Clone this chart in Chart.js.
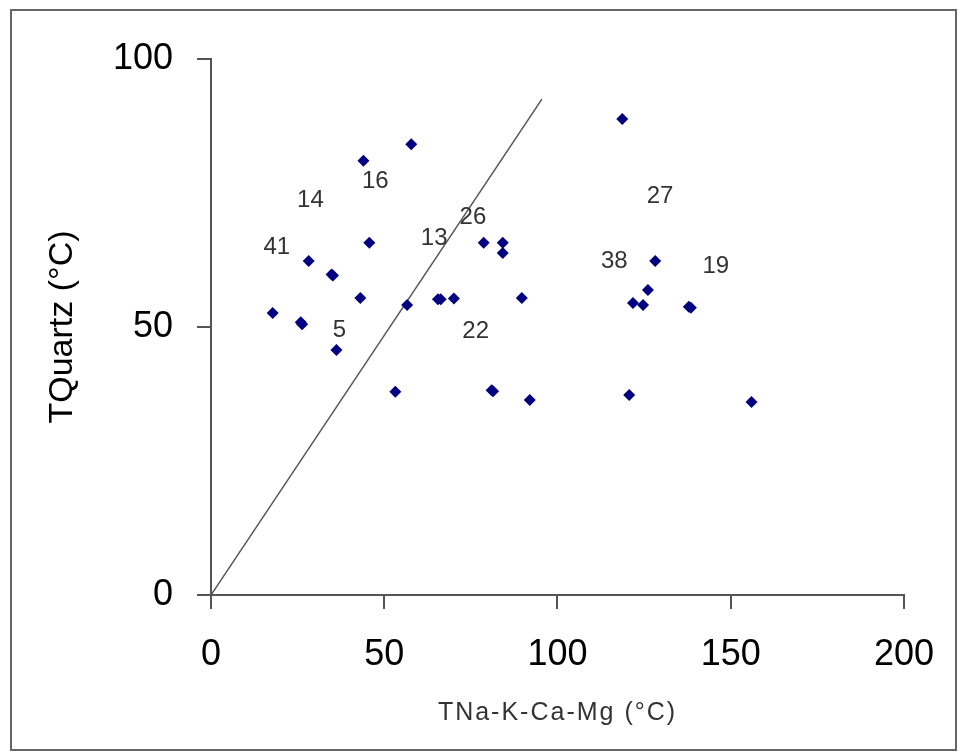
<!DOCTYPE html>
<html>
<head>
<meta charset="utf-8">
<script src="https://cdn.jsdelivr.net/npm/chart.js@4/dist/chart.umd.min.js"></script>
<style>
  html, body { margin: 0; padding: 0; background: #ffffff; }
  #wrap { width: 958px; height: 753px; position: relative; }
</style>
</head>
<body>
<div id="wrap"><canvas id="c" width="958" height="753"></canvas></div>
<script>
// ---- data ----
const sampleX = [17.8, 25.9, 26.3, 28.2, 34.8, 35.2, 36.2, 43.1, 44.0, 45.7, 56.6, 57.8, 53.2,
                 65.5, 66.3, 70.1, 78.7, 84.2, 84.2, 81.0, 81.4, 89.7, 92.0,
                 118.7, 120.7, 121.8, 124.7, 126.1, 128.2, 137.9, 138.5, 156.0];
const sampleY = [52.6, 50.9, 50.5, 62.3, 59.8, 59.6, 45.7, 55.4, 81.0, 65.7, 54.1, 84.1, 37.9,
                 55.2, 55.2, 55.3, 65.7, 65.7, 63.8, 38.2, 38.0, 55.4, 36.4,
                 88.8, 37.3, 54.5, 54.1, 56.9, 62.3, 53.8, 53.6, 36.0];

const refLineX = [0, 95.5];
const refLineY = [0, 92.5];

const labelText = ['14', '16', '41', '13', '26', '5', '22', '27', '38', '19'];
const labelX    = [28.7, 47.4, 19.0, 64.4, 75.6, 37.1, 76.4, 129.6, 116.4, 145.7];
const labelY    = [73.7, 77.2, 64.9, 66.6, 70.5, 49.4, 49.1, 74.3, 62.3, 61.4];

const xTicks = [0, 50, 100, 150, 200];
const yTicks = [0, 50, 100];
const xTitle = 'TNa-K-Ca-Mg (°C)';
const yTitle = 'TQuartz (°C)';

// ---- build ----
const FONT = "'Liberation Sans', Arial, sans-serif";
const points = sampleX.map((x, i) => ({ x: x, y: sampleY[i] }));
const linePts = refLineX.map((x, i) => ({ x: x, y: refLineY[i] }));

const frame = {
  id: 'frame',
  beforeDraw(chart) {
    // spaced-out lettering for the x axis title, as in the reference
    const xs = chart.scales.x;
    if (xs && !xs._spacedTitle) {
      const orig = xs.drawTitle.bind(xs);
      xs.drawTitle = function () {
        const c = this.ctx;
        const prev = c.letterSpacing;
        c.letterSpacing = '2px';
        orig();
        c.letterSpacing = prev || '0px';
      };
      xs._spacedTitle = true;
    }
  },
  afterDraw(chart) {
    const ctx = chart.ctx;
    ctx.save();
    ctx.strokeStyle = '#666666';
    ctx.lineWidth = 2;
    ctx.strokeRect(11, 10, 945, 740);
    ctx.restore();
  }
};

const pointLabels = {
  id: 'pointLabels',
  afterDatasetsDraw(chart) {
    const ctx = chart.ctx;
    const xs = chart.scales.x, ys = chart.scales.y;
    ctx.save();
    ctx.font = '24px ' + FONT;
    ctx.fillStyle = '#333333';
    ctx.textAlign = 'center';
    ctx.textBaseline = 'middle';
    labelText.forEach((t, i) => {
      ctx.fillText(t, xs.getPixelForValue(labelX[i]), ys.getPixelForValue(labelY[i]));
    });
    ctx.restore();
  }
};

new Chart(document.getElementById('c'), {
  type: 'scatter',
  data: {
    datasets: [
      {
        label: 'samples',
        data: points,
        pointStyle: 'rectRot',
        pointRadius: 6,
        pointBackgroundColor: '#000080',
        pointBorderColor: '#000080',
        pointBorderWidth: 0,
        showLine: false
      },
      {
        label: 'ref',
        data: linePts,
        showLine: true,
        borderColor: '#555555',
        borderWidth: 1.5,
        pointRadius: 0,
        fill: false
      }
    ]
  },
  options: {
    responsive: false,
    animation: false,
    events: [],
    layout: { padding: { left: 0, top: 59, right: 51, bottom: 0 } },
    plugins: { legend: { display: false }, tooltip: { enabled: false } },
    scales: {
      x: {
        type: 'linear',
        min: 0, max: 200,
        afterBuildTicks(s) { s.ticks = xTicks.map(v => ({ value: v })); },
        afterFit(s) { s.height = 753 - 595; },
        grid: { display: true, drawOnChartArea: false, drawTicks: true, tickLength: 14, color: '#555555', lineWidth: 2 },
        border: { display: true, color: '#555555', width: 2 },
        ticks: { color: '#000000', font: { family: FONT, size: 36 }, padding: 24, maxRotation: 0 },
        title: { display: true, text: xTitle, color: '#333333', font: { family: FONT, size: 25 }, padding: { top: 0, bottom: 25 } }
      },
      y: {
        type: 'linear',
        min: 0, max: 100,
        afterBuildTicks(s) { s.ticks = yTicks.map(v => ({ value: v })); },
        afterFit(s) { s.width = 211; },
        grid: { display: true, drawOnChartArea: false, drawTicks: true, tickLength: 14, color: '#555555', lineWidth: 2 },
        border: { display: true, color: '#555555', width: 2 },
        ticks: { color: '#000000', font: { family: FONT, size: 36 }, padding: 24 },
        title: { display: true, text: yTitle, color: '#000000', font: { family: FONT, size: 34 }, padding: { top: 42, bottom: 0 } }
      }
    }
  },
  plugins: [frame, pointLabels]
});
</script>
</body>
</html>
